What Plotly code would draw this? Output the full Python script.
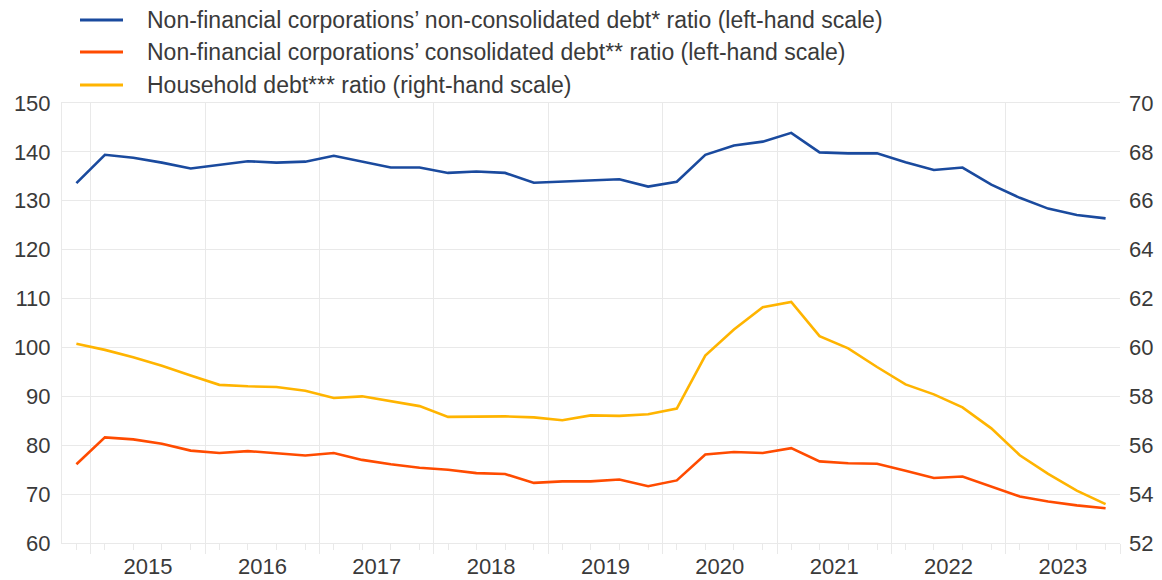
import pandas as pd
import plotly.graph_objects as go

# Quarterly observations (Q4 2014 - Q4 2023)
quarters = ["2014Q4",
            "2015Q1", "2015Q2", "2015Q3", "2015Q4",
            "2016Q1", "2016Q2", "2016Q3", "2016Q4",
            "2017Q1", "2017Q2", "2017Q3", "2017Q4",
            "2018Q1", "2018Q2", "2018Q3", "2018Q4",
            "2019Q1", "2019Q2", "2019Q3", "2019Q4",
            "2020Q1", "2020Q2", "2020Q3", "2020Q4",
            "2021Q1", "2021Q2", "2021Q3", "2021Q4",
            "2022Q1", "2022Q2", "2022Q3", "2022Q4",
            "2023Q1", "2023Q2", "2023Q3", "2023Q4"]

nfc_nonconsolidated = [133.6, 139.4, 138.8, 137.8, 136.6, 137.3, 138.1, 137.8, 138.0,
                       139.2, 138.0, 136.8, 136.8, 135.7, 136.0, 135.7, 133.7, 133.9,
                       134.2, 134.4, 132.9, 133.9, 139.4, 141.3, 142.1, 143.9, 139.9,
                       139.7, 139.7, 137.9, 136.3, 136.8, 133.3, 130.6, 128.4, 127.1, 126.4]

nfc_consolidated = [76.1, 81.6, 81.2, 80.3, 78.9, 78.4, 78.8, 78.4, 77.9,
                    78.4, 77.0, 76.1, 75.4, 75.0, 74.3, 74.1, 72.3, 72.6,
                    72.6, 73.0, 71.6, 72.8, 78.1, 78.6, 78.4, 79.4, 76.7,
                    76.3, 76.2, 74.8, 73.3, 73.6, 71.6, 69.5, 68.5, 67.7, 67.1]

household = [60.15, 59.9, 59.6, 59.25, 58.85, 58.47, 58.41, 58.38, 58.23,
             57.93, 58.0, 57.8, 57.6, 57.16, 57.18, 57.18, 57.14, 57.02,
             57.22, 57.2, 57.27, 57.5, 59.67, 60.73, 61.65, 61.86, 60.46,
             59.96, 59.2, 58.49, 58.08, 57.55, 56.69, 55.59, 54.83, 54.14, 53.59]

names = ["Non-financial corporations\u2019 non-consolidated debt* ratio (left-hand scale)",
         "Non-financial corporations\u2019 consolidated debt** ratio (left-hand scale)",
         "Household debt*** ratio (right-hand scale)"]

left_ticks = [60, 70, 80, 90, 100, 110, 120, 130, 140, 150]
right_ticks = [52, 54, 56, 58, 60, 62, 64, 66, 68, 70]

# position each quarter at its mid point
periods = pd.PeriodIndex(quarters, freq="Q")
xpos = [p.start_time + (p.end_time - p.start_time) / 2 for p in periods]
xpos = [t.strftime("%Y-%m-%d %H:%M") for t in xpos]

BLUE = "#1a4a9e"
ORANGE = "#ff4b00"
YELLOW = "#ffb400"
COLORS = [BLUE, ORANGE, YELLOW]
GRID = "#e9e9e9"
TEXT = "#3a3a3a"
FONT = "Liberation Sans, Arial, sans-serif"

# the page body adds an 8px offset; size the figure to compensate
OFF = 8
W, H = 1162 - OFF, 580 - OFF
ML, MT = 62 - OFF, 103 - OFF
PW, PH = 1058, 440
MR, MB = W - ML - PW, H - MT - PH

fig = go.Figure()
fig.add_trace(go.Scatter(x=xpos, y=nfc_nonconsolidated, name=names[0], mode="lines",
                         line=dict(color=BLUE, width=2.6)))
fig.add_trace(go.Scatter(x=xpos, y=nfc_consolidated, name=names[1], mode="lines",
                         line=dict(color=ORANGE, width=2.6)))
fig.add_trace(go.Scatter(x=xpos, y=household, name=names[2], mode="lines",
                         line=dict(color=YELLOW, width=2.6), yaxis="y2"))

# manual legend (screen px converted to paper coordinates)
def px2x(px):
    return (px - OFF - ML) / PW
def py2y(py):
    return 1 + (MT - (py - OFF)) / PH

legend_rows = [20, 52, 85]
for name, col, row in zip(names, COLORS, legend_rows):
    fig.add_shape(type="line", xref="paper", yref="paper",
                  x0=px2x(80), x1=px2x(123), y0=py2y(row), y1=py2y(row),
                  line=dict(color=col, width=3))
    fig.add_annotation(xref="paper", yref="paper", x=px2x(145), y=py2y(row),
                       xanchor="left", yanchor="middle", text=name, showarrow=False,
                       font=dict(size=23, color=TEXT, family=FONT))

fig.update_layout(
    width=W, height=H,
    margin=dict(l=ML, r=MR, t=MT, b=MB, autoexpand=False),
    paper_bgcolor="white", plot_bgcolor="white",
    font=dict(family=FONT, size=22, color=TEXT),
    showlegend=False,
    xaxis=dict(type="date", range=["2014-10-01", "2024-01-01"],
               tick0="2015-01-01", dtick="M12", tickformat="%Y", ticklabelmode="period",
               tickangle=0,
               ticks="outside", ticklen=10, tickcolor=GRID, tickwidth=1,
               ticklabelstandoff=-6,
               showgrid=True, gridcolor=GRID, gridwidth=1,
               showline=True, linecolor=GRID, mirror=True,
               tickfont=dict(size=22, color=TEXT),
               minor=dict(tickmode="array", tickvals=xpos, ticks="outside", ticklen=6,
                          tickcolor=GRID, showgrid=False)),
    yaxis=dict(range=[60, 150], tickvals=left_ticks, showgrid=True, gridcolor=GRID,
               zeroline=False, showline=True, linecolor=GRID, ticks="",
               ticklabelstandoff=6, tickfont=dict(size=22, color=TEXT)),
    yaxis2=dict(range=[52, 70], tickvals=right_ticks, overlaying="y", side="right",
                showgrid=False, zeroline=False, ticks="",
                ticklabelstandoff=8, tickfont=dict(size=22, color=TEXT)),
)

fig.write_html("out.html")
